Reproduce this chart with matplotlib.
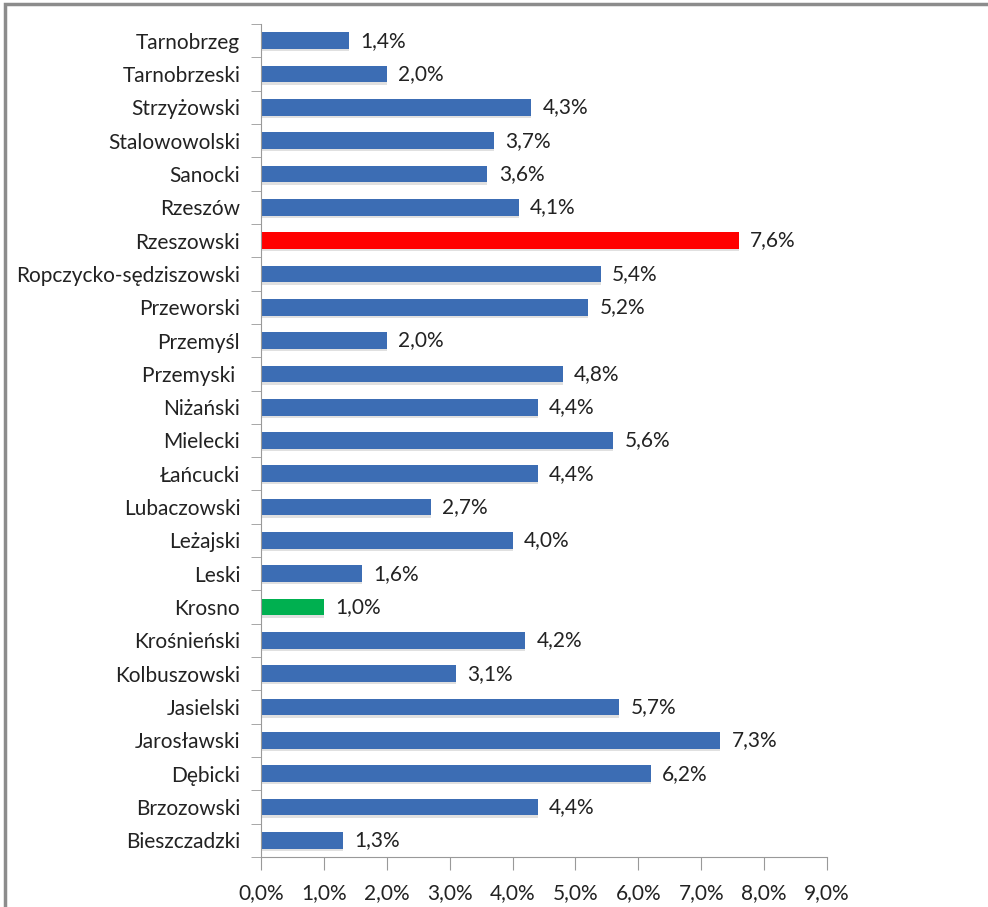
import matplotlib.pyplot as plt
from matplotlib.patches import Rectangle

# powiaty od dołu do góry
powiaty = ['Bieszczadzki', 'Brzozowski', 'Dębicki', 'Jarosławski', 'Jasielski',
           'Kolbuszowski', 'Krośnieński', 'Krosno', 'Leski', 'Leżajski',
           'Lubaczowski', 'Łańcucki', 'Mielecki', 'Niżański', 'Przemyski ',
           'Przemyśl', 'Przeworski', 'Ropczycko-sędziszowski', 'Rzeszowski',
           'Rzeszów', 'Sanocki', 'Stalowowolski', 'Strzyżowski', 'Tarnobrzeski',
           'Tarnobrzeg']
wartosci = [1.3, 4.4, 6.2, 7.3, 5.7, 3.1, 4.2, 1.0, 1.6, 4.0, 2.7, 4.4, 5.6,
            4.4, 4.8, 2.0, 5.2, 5.4, 7.6, 4.1, 3.6, 3.7, 4.3, 2.0, 1.4]
xticks = [0, 1, 2, 3, 4, 5, 6, 7, 8, 9]

kolory = []
for p in powiaty:
    if p == 'Rzeszowski':
        kolory.append('#ff0000')
    elif p == 'Krosno':
        kolory.append('#00b050')
    else:
        kolory.append('#3c6db4')

plt.rcParams['font.family'] = ['Lato', 'DejaVu Sans']

fig = plt.figure(figsize=(9.88, 9.07), dpi=100)
ax = fig.add_axes([261/988, 1 - 857/907, (827 - 261)/988, (857 - 24)/907])

y = list(range(len(powiaty)))
# cień pod słupkami
ax.barh([v - 0.07 for v in y], wartosci, height=0.5,
        color='#cccccc', alpha=0.6, zorder=1)
ax.barh(y, wartosci, height=0.5, color=kolory, zorder=2)

for yi, w in zip(y, wartosci):
    ax.text(w + 0.18, yi, ('%.1f%%' % w).replace('.', ','), va='center',
            ha='left', fontsize=15, color='#222222')

ax.set_xlim(0, 9)
ax.set_ylim(-0.5, len(powiaty) - 0.5)
ax.set_xticks(xticks)
ax.set_xticklabels([('%.1f%%' % t).replace('.', ',') for t in xticks],
                   fontsize=15, color='#222222')
ax.set_yticks(y)
ax.set_yticklabels(powiaty, fontsize=15, color='#222222')
ax.set_yticks([i - 0.5 for i in range(len(powiaty) + 1)], minor=True)
ax.tick_params(axis='y', which='major', length=0, pad=15)
ax.tick_params(axis='y', which='minor', length=7, color='#999999')
ax.tick_params(axis='x', length=9, color='#999999', pad=10)

for s in ['top', 'right']:
    ax.spines[s].set_visible(False)
for s in ['left', 'bottom']:
    ax.spines[s].set_color('#999999')

# ramka obrazka
fig.patches.append(Rectangle((5/988, -0.1), 1.2, 1 - 4/907 + 0.1,
                             transform=fig.transFigure, fill=False,
                             edgecolor='#8c8c8c', linewidth=2.5))

plt.savefig('out.png', dpi=100)
